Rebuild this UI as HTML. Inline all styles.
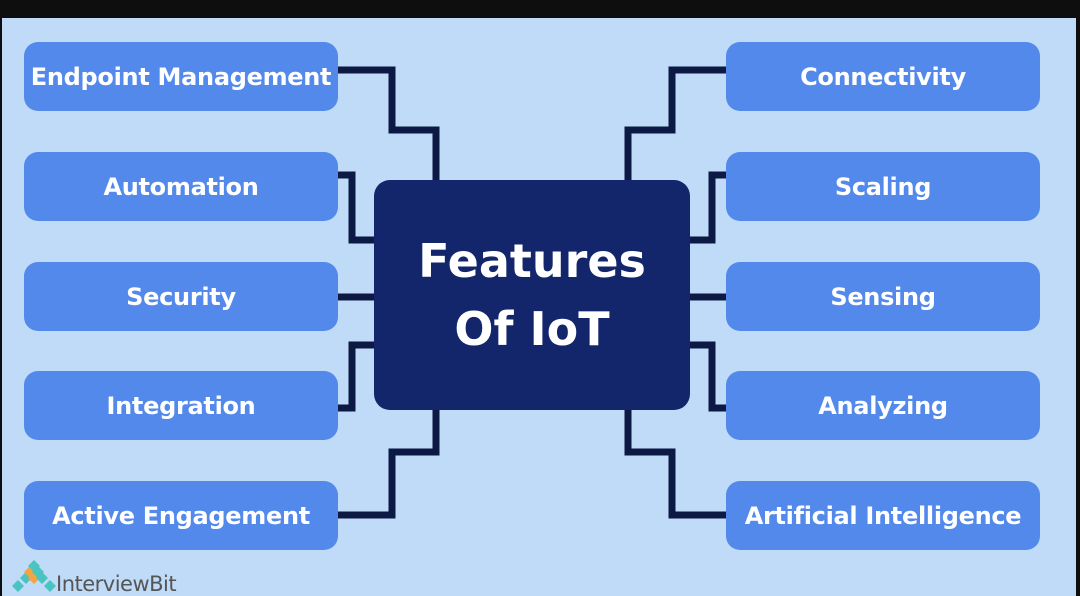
<!DOCTYPE html>
<html><head><meta charset="utf-8"><style>
html,body{margin:0;padding:0;width:1080px;height:596px;overflow:hidden;background:#0e0e0e;}
.bg{position:absolute;left:2px;top:18px;width:1074px;height:578px;background:#bfdbf8;}
.box{position:absolute;width:314px;height:69px;background:#5389ea;border-radius:14px;color:#fff;font:bold 24px "DejaVu Sans","Liberation Sans",sans-serif;display:flex;align-items:center;justify-content:center;letter-spacing:-0.3px;}
.c{position:absolute;left:374px;top:180px;width:316px;height:230px;background:#13266c;border-radius:16px;color:#fff;font:bold 46px "DejaVu Sans","Liberation Sans",sans-serif;display:flex;align-items:center;justify-content:center;text-align:center;line-height:68px;}
svg{position:absolute;left:0;top:0;}
.logo{position:absolute;left:56px;top:572px;font:21px "DejaVu Sans","Liberation Sans",sans-serif;color:#555;letter-spacing:-0.5px;}
</style></head><body>
<div class="bg"></div>
<svg width="1080" height="596">
<g fill="none" stroke="#0c1945" stroke-width="7" stroke-linejoin="miter">
<path d="M338 70 H392 V130 H436 V180"/>
<path d="M338 175 H352 V240 H374"/>
<path d="M338 297 H374"/>
<path d="M374 345 H352 V408 H338"/>
<path d="M436 410 V452 H392 V515 H338"/>
<path d="M726 70 H672 V130 H628 V180"/>
<path d="M726 175 H712 V240 H690"/>
<path d="M726 297 H690"/>
<path d="M690 345 H712 V408 H726"/>
<path d="M628 410 V452 H672 V515 H726"/>
</g>
<g>
<polygon points="20,578 26,572 32,578 26,584" fill="#49c4c0"/>
<polygon points="28,578 34,572 40,578 34,584" fill="#f4a540"/>
<polygon points="36,578 42,572 48,578 42,584" fill="#49c4c0"/>
<polygon points="24,572 30,566 36,572 30,578" fill="#f4a540"/>
<polygon points="32,572 38,566 44,572 38,578" fill="#49c4c0"/>
<polygon points="28,566 34,560 40,566 34,572" fill="#49c4c0"/>
<polygon points="12,586 18,580 24,586 18,592" fill="#49c4c0"/>
<polygon points="44,586 50,580 56,586 50,592" fill="#49c4c0"/>
</g>
</svg>
<div class="box" style="left:24px;top:42px">Endpoint Management</div>
<div class="box" style="left:24px;top:152px">Automation</div>
<div class="box" style="left:24px;top:262px">Security</div>
<div class="box" style="left:24px;top:371px">Integration</div>
<div class="box" style="left:24px;top:481px">Active Engagement</div>
<div class="box" style="left:726px;top:42px">Connectivity</div>
<div class="box" style="left:726px;top:152px">Scaling</div>
<div class="box" style="left:726px;top:262px">Sensing</div>
<div class="box" style="left:726px;top:371px">Analyzing</div>
<div class="box" style="left:726px;top:481px">Artificial Intelligence</div>
<div class="c">Features<br>Of IoT</div>
<div class="logo">InterviewBit</div>
</body></html>
